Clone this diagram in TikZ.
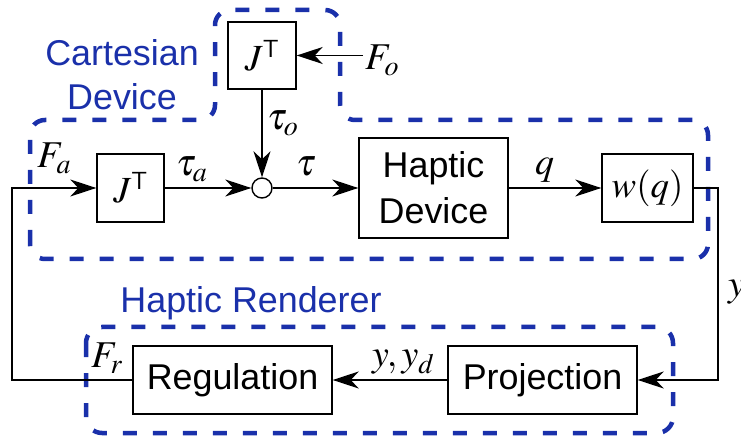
\documentclass[tikz,border=0pt]{standalone}
\usepackage{mathptmx}
\usepackage{fontspec}
\setmainfont{Liberation Serif}
\setsansfont{Liberation Sans}
\usetikzlibrary{arrows.meta}
\definecolor{grpblue}{RGB}{26,48,170}
\tikzset{
  blk/.style={draw, line width=1.4bp, inner sep=0pt, minimum height=68bp,
    font=\sffamily\fontsize{36}{46}\selectfont, align=center},
  jbox/.style={blk, font=\fontsize{37}{38}\selectfont},
  sig/.style={line width=1.3bp, -{Stealth[length=26bp,width=17bp,inset=8bp]}},
  lbl/.style={font=\fontsize{38}{40}\selectfont, inner sep=0pt, anchor=base west},
  grp/.style={draw=grpblue, line width=4.5bp, dash pattern=on 14bp off 16bp,
    rounded corners=15bp},
  grptxt/.style={text=grpblue, font=\sffamily\fontsize{36}{44}\selectfont, align=center},
}

\begin{document}
\begin{tikzpicture}[x=1bp,y=-1bp]
  \useasboundingbox (0,0) rectangle (741,441);
  % dashed groups
  \draw[grp] (30,259) -- (30,120) -- (215,120) -- (215,10) -- (340,10)
    -- (340,120) -- (708,120) -- (708,259) -- cycle;
  \draw[grp, rounded corners=16bp] (86,327) rectangle (673,433);
  \node[grptxt] (cartlbl) at (122,75) {Cartesian\\Device};
  \node[grptxt] (rendlbl) at (251,303) {Haptic Renderer};

  % blocks
  \node[jbox, minimum width=68bp, minimum height=67bp] (jto) at (262,55.5) {$J^{\mathsf{T}}$};
  \node[jbox, minimum width=67bp] (jta) at (130.5,188) {$J^{\mathsf{T}}$};
  \node[draw, circle, line width=1.4bp, minimum size=20bp, inner sep=0pt] (sum) at (262,188) {};
  \node[blk, minimum width=149bp, minimum height=100bp] (hd) at (433.5,188) {Haptic\\Device};
  \node[jbox, minimum width=91bp] (wq) at (647.5,188) {$w(q)$};
  \node[blk, minimum width=199bp] (reg) at (232.5,380) {Regulation};
  \node[blk, minimum width=189bp] (proj) at (542.5,380) {Projection};

  \coordinate (fo) at (363,55.5);
  \coordinate (fbl) at (12,300);
  \coordinate (fbr) at (718,300);

  % signals
  \draw[sig] (fo) -- (jto);
  \draw[sig] (jto) -- (sum);
  \draw[sig] (jta) -- (sum);
  \draw[sig] (sum) -- (hd);
  \draw[sig] (hd) -- (wq);
  \draw[sig] (wq.east) -| (fbr) |- (proj.east);
  \draw[sig] (proj) -- (reg);
  \draw[sig] (reg.west) -| (fbl) |- (jta.west);

  % labels
  \node[lbl] (lFo) at (365,70) {$F_o$};
  \node[lbl] (lFa) at (37,168) {$F_a$};
  \node[lbl] (lta) at (176,176) {$\tau_a$};
  \node[lbl] (lto) at (267,130) {$\tau_o$};
  \node[lbl] (lt) at (296,176) {$\tau$};
  \node[lbl] (lq) at (535,175) {$q$};
  \node[lbl] (lFr) at (91,368) {$F_r$};
  \node[lbl] (lyd) at (372,367) {$y, y_d$};
  \node[lbl] (ly) at (728,297) {$y$};
\end{tikzpicture}
\end{document}
